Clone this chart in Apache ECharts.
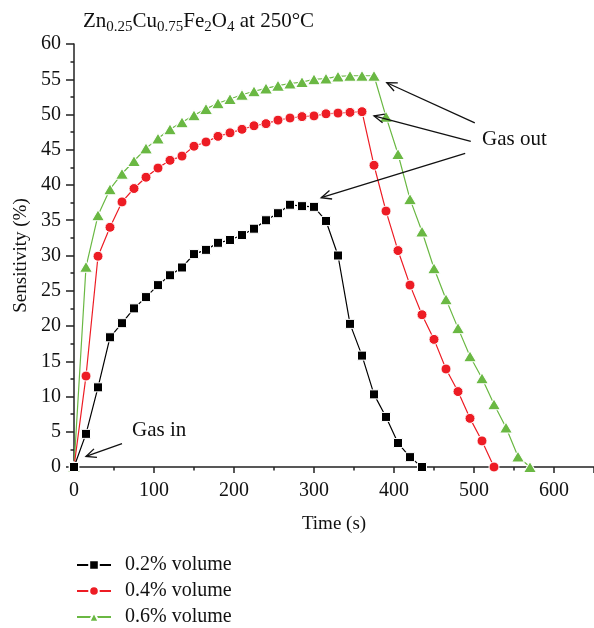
<!DOCTYPE html>
<html>
<head>
<meta charset="utf-8">
<script src="https://cdn.jsdelivr.net/npm/echarts@6/dist/echarts.min.js"></script>
<style>
  html, body { margin: 0; padding: 0; background: #fff; }
  #chart { width: 594px; height: 628px; }
</style>
</head>
<body>
<div id="chart"></div>
<script>
// Sampling times (s), shared by all three runs
const times = [0, 15, 30, 45, 60, 75, 90, 105, 120, 135, 150, 165, 180, 195, 210,
  225, 240, 255, 270, 285, 300, 315, 330, 345, 360, 375, 390, 405, 420, 435,
  450, 465, 480, 495, 510, 525, 540, 555, 570];

// Sensitivity (%) for each gas concentration
const vol02 = [0, 4.7, 11.3, 18.4, 20.4, 22.5, 24.1, 25.8, 27.2, 28.3, 30.2, 30.8,
  31.8, 32.2, 32.9, 33.8, 35.0, 36.0, 37.2, 37.0, 36.9, 34.9, 30.0, 20.3, 15.8,
  10.3, 7.1, 3.4, 1.4, 0];
const vol04 = [0, 12.9, 29.9, 34.0, 37.6, 39.5, 41.1, 42.4, 43.5, 44.1, 45.5, 46.1,
  46.9, 47.4, 47.9, 48.4, 48.7, 49.2, 49.5, 49.7, 49.8, 50.1, 50.2, 50.3, 50.4,
  42.8, 36.3, 30.7, 25.8, 21.6, 18.1, 13.9, 10.7, 6.9, 3.7, 0];
const vol06 = [0, 28.4, 35.7, 39.4, 41.6, 43.4, 45.2, 46.6, 47.9, 48.9, 49.9, 50.8,
  51.6, 52.2, 52.8, 53.3, 53.7, 54.1, 54.4, 54.6, 55.0, 55.1, 55.4, 55.5, 55.5,
  55.5, 49.7, 44.4, 38.0, 33.4, 28.2, 23.8, 19.7, 15.7, 12.6, 8.9, 5.6, 1.5, 0];

const seriesNames = ['0.2% volume', '0.4% volume', '0.6% volume'];

// Annotation arrows in data units: [fromTime, fromSens, toTime, toSens]
const arrows = [
  [60, 3.3, 15, 1.5],
  [501, 48.8, 391, 54.5],
  [496, 46.2, 375, 49.8],
  [489, 44.5, 309, 38.2]
];
// Annotation texts: [time, sensitivity, text]
const notes = [
  [72.5, 5.2, 'Gas in'],
  [510, 46.4, 'Gas out']
];

const serif = '"Liberation Serif", "DejaVu Serif", serif';

function pairs(vals) {
  return vals.map((v, i) => [times[i], v]);
}

const chart = echarts.init(document.getElementById('chart'), null, { renderer: 'canvas' });

const axisCommon = {
  type: 'value',
  nameLocation: 'middle',
  nameTextStyle: { fontFamily: serif, fontSize: 19, color: '#111' },
  axisLine: { show: true, lineStyle: { color: '#222', width: 1.5 } },
  minorTick: { show: true, splitNumber: 2, length: 3.5, lineStyle: { color: '#222', width: 1.5 } },
  splitLine: { show: false }
};

const option = {
  animation: false,
  backgroundColor: '#fff',
  textStyle: { fontFamily: serif, color: '#111' },
  title: {
    left: 78,
    top: 2,
    text: '{n|Zn}{s|0.25}{n|Cu}{s|0.75}{n|Fe}{s|2}{n|O}{s|4}{n| at 250°C}',
    textStyle: {
      rich: {
        n: { fontFamily: serif, fontSize: 21, fontWeight: 'normal', color: '#111', lineHeight: 25, verticalAlign: 'bottom' },
        s: { fontFamily: serif, fontSize: 15, fontWeight: 'normal', color: '#111', lineHeight: 15, verticalAlign: 'bottom', padding: [0, 0, -3, 0] }
      }
    }
  },
  legend: {
    orient: 'vertical',
    left: 76,
    top: 555,
    height: 100,
    padding: 0,
    itemWidth: 34,
    itemHeight: 12,
    itemGap: 6,
    data: seriesNames,
    textStyle: { fontFamily: serif, fontSize: 20, color: '#111', padding: [0, 0, 0, 9] }
  },
  grid: { left: 74, top: 44, width: 520, height: 423, containLabel: false },
  xAxis: Object.assign({}, axisCommon, {
    min: 0,
    max: 650,
    interval: 100,
    name: 'Time (s)',
    nameGap: 48,
    axisTick: { show: true, length: 6, lineStyle: { color: '#222', width: 1.5 } },
    axisLabel: { fontFamily: serif, fontSize: 20, color: '#111', margin: 14, showMaxLabel: false }
  }),
  yAxis: Object.assign({}, axisCommon, {
    min: 0,
    max: 60,
    interval: 5,
    name: 'Sensitivity (%)',
    nameGap: 43,
    nameRotate: 90,
    axisTick: { show: true, length: 8, lineStyle: { color: '#222', width: 1.5 } },
    axisLabel: { fontFamily: serif, fontSize: 20, color: '#111', margin: 13 }
  }),
  series: [
    {
      name: seriesNames[0],
      type: 'line',
      data: pairs(vol02),
      symbol: 'rect',
      symbolSize: 9,
      lineStyle: { color: '#000', width: 1.2 },
      itemStyle: { color: '#000', borderColor: '#fff', borderWidth: 1 },
      z: 4
    },
    {
      name: seriesNames[1],
      type: 'line',
      data: pairs(vol04),
      symbol: 'circle',
      symbolSize: 10,
      lineStyle: { color: '#ed1c24', width: 1.2 },
      itemStyle: { color: '#ed1c24', borderColor: '#fff', borderWidth: 1 },
      z: 3
    },
    {
      name: seriesNames[2],
      type: 'line',
      data: pairs(vol06),
      symbol: 'triangle',
      symbolSize: [13, 11],
      lineStyle: { color: '#6ab843', width: 1.2 },
      itemStyle: { color: '#6ab843', borderColor: '#fff', borderWidth: 1 },
      z: 2
    },
    {
      // open-headed arrows pointing at the gas in / gas out moments
      type: 'custom',
      silent: true,
      z: 6,
      data: arrows,
      encode: { x: [0, 2], y: [1, 3] },
      renderItem: function (params, api) {
        const a = api.coord([api.value(0), api.value(1)]);
        const b = api.coord([api.value(2), api.value(3)]);
        const ang = Math.atan2(a[1] - b[1], a[0] - b[0]);
        const len = 11, spread = 0.42;
        const h1 = [b[0] + len * Math.cos(ang + spread), b[1] + len * Math.sin(ang + spread)];
        const h2 = [b[0] + len * Math.cos(ang - spread), b[1] + len * Math.sin(ang - spread)];
        const st = { stroke: '#111', lineWidth: 1.3, fill: null };
        return {
          type: 'group',
          children: [
            { type: 'polyline', shape: { points: [a, b] }, style: st },
            { type: 'polyline', shape: { points: [h1, b, h2] }, style: st }
          ]
        };
      }
    },
    {
      type: 'custom',
      silent: true,
      z: 6,
      data: notes.map(n => [n[0], n[1]]),
      renderItem: function (params, api) {
        const p = api.coord([api.value(0), api.value(1)]);
        return {
          type: 'text',
          x: p[0],
          y: p[1],
          style: {
            text: notes[params.dataIndex][2],
            fontFamily: serif,
            fontSize: 21,
            fill: '#111',
            align: 'left',
            verticalAlign: 'middle'
          }
        };
      }
    }
  ]
};

chart.setOption(option);
</script>
</body>
</html>
